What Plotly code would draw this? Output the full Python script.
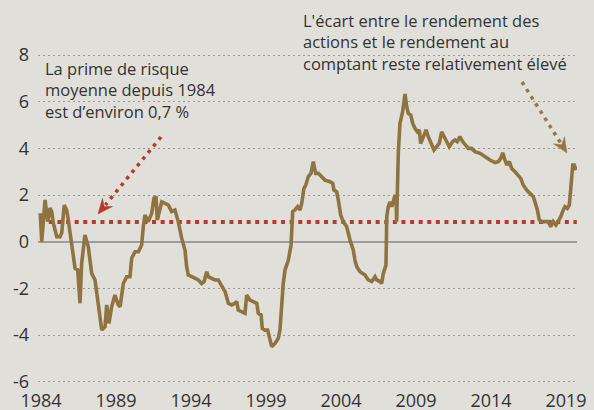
import plotly.graph_objects as go

# ---- data ----
years = [1983.95, 1984.05, 1984.27, 1984.45, 1984.6, 1984.71, 1984.82, 1985.05, 1985.27, 1985.38,
         1985.55, 1985.71, 1985.82, 1986.05, 1986.27, 1986.45, 1986.6, 1986.71, 1986.93, 1987.15,
         1987.38, 1987.6, 1987.82, 1988.05, 1988.27, 1988.38, 1988.53, 1988.71, 1988.93, 1989.15,
         1989.27, 1989.49, 1989.71, 1989.93, 1990.05, 1990.27, 1990.49, 1990.71, 1990.82, 1990.93,
         1991.15, 1991.38, 1991.53, 1991.67, 1991.75, 1991.89, 1992.05, 1992.27, 1992.49, 1992.6,
         1992.71, 1992.93, 1993.15, 1993.38, 1993.6, 1993.71, 1993.82, 1994.05, 1994.27, 1994.49,
         1994.71, 1994.87, 1995.05, 1995.15, 1995.38, 1995.6, 1995.82, 1996.05, 1996.27, 1996.49,
         1996.71, 1996.93, 1997.05, 1997.15, 1997.38, 1997.6, 1997.71, 1997.93, 1998.15, 1998.38,
         1998.49, 1998.67, 1998.75, 1998.93, 1999.11, 1999.27, 1999.38, 1999.6, 1999.82, 1999.93,
         2000.05, 2000.15, 2000.27, 2000.49, 2000.67, 2000.78, 2000.93, 2001.11, 2001.27, 2001.38,
         2001.53, 2001.65, 2001.82, 2002.0, 2002.15, 2002.31, 2002.49, 2002.71, 2002.93, 2003.27,
         2003.45, 2003.53, 2003.71, 2003.82, 2003.98, 2004.15, 2004.38, 2004.6, 2004.82, 2004.93,
         2005.05, 2005.27, 2005.6, 2005.82, 2006.05, 2006.27, 2006.38, 2006.6, 2006.71, 2006.82,
         2007.0, 2007.05, 2007.15, 2007.27, 2007.38, 2007.49, 2007.6, 2007.67, 2007.71, 2007.82,
         2007.93, 2008.11, 2008.27, 2008.38, 2008.49, 2008.65, 2008.78, 2008.93, 2009.09, 2009.22,
         2009.31, 2009.45, 2009.67, 2009.82, 2010.05, 2010.2, 2010.38, 2010.55, 2010.71, 2010.82,
         2011.0, 2011.22, 2011.45, 2011.6, 2011.75, 2011.93, 2012.11, 2012.33, 2012.49, 2012.71,
         2012.93, 2013.27, 2013.6, 2013.93, 2014.27, 2014.49, 2014.65, 2014.78, 2014.93, 2015.05,
         2015.22, 2015.38, 2015.6, 2015.82, 2015.98, 2016.15, 2016.38, 2016.6, 2016.82, 2016.93,
         2017.09, 2017.22, 2017.38, 2017.6, 2017.82, 2017.98, 2018.15, 2018.33, 2018.49, 2018.65,
         2018.82, 2018.93, 2019.09, 2019.22, 2019.31, 2019.45, 2019.55, 2019.67]

premium = [1.22, 0.0, 1.79, 0.86, 1.44, 1.29, 0.8, 0.21, 0.21, 0.37,
           1.57, 1.36, 0.93, -0.21, -1.14, -1.21, -2.64, -0.93, 0.29, -0.21,
           -1.36, -1.64, -2.79, -3.79, -3.64, -2.71, -3.5, -2.79, -2.29, -2.71,
           -2.79, -1.79, -1.5, -1.5, -0.7, -0.43, -0.43, -0.14, 0.64, 1.14,
           0.86, 1.22, 1.86, 1.93, 0.93, 1.36, 1.71, 1.64, 1.57, 1.43,
           1.29, 1.36, 0.86, 0.14, -0.36, -1.07, -1.43, -1.5, -1.57, -1.64,
           -1.79, -1.71, -1.29, -1.5, -1.57, -1.64, -1.64, -1.93, -2.14, -2.64,
           -2.71, -2.64, -2.57, -2.93, -3.0, -3.07, -2.29, -2.5, -2.57, -2.64,
           -3.07, -3.14, -3.71, -3.79, -3.79, -4.21, -4.5, -4.36, -4.14, -3.79,
           -2.64, -1.79, -1.21, -0.79, -0.14, 1.29, 1.36, 1.5, 1.36, 1.64,
           2.29, 2.43, 2.79, 2.93, 3.43, 2.93, 2.93, 2.79, 2.64, 2.57,
           2.5, 2.21, 2.14, 1.79, 1.14, 0.86, 0.64, 0.07, -0.36, -0.79,
           -1.07, -1.29, -1.43, -1.64, -1.71, -1.5, -1.64, -1.71, -1.79, -1.36,
           -1.0, 1.07, 1.5, 1.71, 1.5, 1.71, 2.0, 1.9, 0.86, 3.79,
           5.07, 5.57, 6.33, 5.79, 5.5, 5.43, 5.07, 4.86, 4.71, 4.79,
           4.21, 4.43, 4.79, 4.5, 4.14, 3.93, 4.07, 4.21, 4.71, 4.57,
           4.29, 4.07, 4.29, 4.36, 4.29, 4.5, 4.29, 4.14, 4.0, 4.0,
           3.86, 3.79, 3.64, 3.5, 3.39, 3.43, 3.57, 3.81, 3.5, 3.29,
           3.43, 3.14, 3.0, 2.86, 2.71, 2.43, 2.21, 2.07, 1.93, 1.71,
           1.36, 0.93, 0.86, 0.86, 0.86, 0.64, 0.86, 0.71, 0.86, 1.07,
           1.36, 1.5, 1.43, 1.57, 2.21, 3.29, 3.29, 3.07]

mean_premium = 0.84

x_tick_vals = [1984, 1989, 1994, 1999, 2004, 2009, 2014, 2019]
x_tick_text = ["1984", "1989", "1994", "1999", "2004", "2009", "2014", "2019"]
y_tick_vals = [-6, -4, -2, 0, 2, 4, 6, 8]
y_tick_text = ["-6", "-4", "-2", "0", "2", "4", "6", "8"]

note_left = "La prime de risque<br>moyenne depuis 1984<br>est d’environ 0,7 %"
note_right = "L'écart entre le rendement des<br>actions et le rendement au<br>comptant reste relativement élevé"

# ---- styling / layout ----
W, H = 594, 410
L, R, T, B = 38, 577, 41, 384   # plot area in pixels
BG = "#e0dfda"
LINE = "#8f7341"
RED = "#b83a2a"
ARROW_BROWN = "#937844"
FONT = "Open Sans"


def px(x):
    return (x - L) / (R - L)


def py(y):
    return (B - y) / (B - T)


fig = go.Figure()

fig.add_trace(go.Scatter(
    x=[years[0], years[-1] + 0.05], y=[mean_premium, mean_premium],
    mode="lines", line=dict(color=RED, width=4, dash="4px,4.6px"),
    hoverinfo="skip", showlegend=False))

fig.add_trace(go.Scatter(
    x=years, y=premium, mode="lines",
    line=dict(color=LINE, width=3.6), showlegend=False))


def dotted_arrow(x0, y0, x1, y1, color, width=3.5, head_len=15, head_w=6.5):
    import math
    dx, dy = x1 - x0, y1 - y0
    n = math.hypot(dx, dy)
    ux, uy = dx / n, dy / n
    bx, by = x1 - head_len * ux, y1 - head_len * uy
    nx, ny = x1 - 0.65 * head_len * ux, y1 - 0.65 * head_len * uy
    c1 = (bx - head_w * uy, by + head_w * ux)
    c2 = (bx + head_w * uy, by - head_w * ux)
    fig.add_shape(type="line", xref="paper", yref="paper",
                  x0=px(x0), y0=py(y0), x1=px(nx - 2 * ux), y1=py(ny - 2 * uy),
                  line=dict(color=color, width=width, dash="3.5px,5px"))
    path = (f"M {px(x1)} {py(y1)} L {px(c1[0])} {py(c1[1])} "
            f"L {px(nx)} {py(ny)} L {px(c2[0])} {py(c2[1])} Z")
    fig.add_shape(type="path", xref="paper", yref="paper", path=path,
                  fillcolor=color, line=dict(color=color, width=0.5))


dotted_arrow(161, 137, 98, 214, RED)
dotted_arrow(522, 82, 567, 153, ARROW_BROWN)

fig.add_annotation(text=note_left, xref="paper", yref="paper",
                   x=px(43), y=py(55), xanchor="left", yanchor="top",
                   align="left", showarrow=False,
                   font=dict(family=FONT, size=16.5, color="#333333"))
fig.add_annotation(text=note_right, xref="paper", yref="paper",
                   x=px(301), y=py(7), xanchor="left", yanchor="top",
                   align="left", showarrow=False,
                   font=dict(family=FONT, size=16.5, color="#333333"))

fig.update_layout(
    width=W, height=H,
    margin=dict(l=L, r=W - R, t=T, b=H - B, pad=0, autoexpand=False),
    paper_bgcolor=BG, plot_bgcolor=BG,
    font=dict(family=FONT, size=18, color="#333333"),
    showlegend=False,
)

y_lo = -6.1
y_hi = y_lo + (B - T) / 23.33

fig.update_xaxes(
    range=[1984 + (L - 41) / 15, 1984 + (R - 41) / 15],
    tickvals=x_tick_vals, ticktext=x_tick_text, automargin=False,
    showgrid=False, zeroline=False, showline=False, ticks="",
    ticklabelstandoff=4,
    tickfont=dict(family=FONT, size=18, color="#333333"),
)
fig.update_yaxes(
    range=[y_lo, y_hi], automargin=False,
    tickvals=y_tick_vals, ticktext=y_tick_text,
    showgrid=True, gridcolor="#9a9a9a", gridwidth=1.2, griddash="1.5px,3.5px",
    zeroline=True, zerolinecolor="#9d9d9d", zerolinewidth=2,
    showline=False, ticks="", ticklabelstandoff=8,
    tickfont=dict(family=FONT, size=18, color="#333333"),
)

fig.write_html(
    "out.html",
    config={"displayModeBar": False},
    post_script="document.body.style.margin='0px';document.body.style.background='%s';" % BG,
)
